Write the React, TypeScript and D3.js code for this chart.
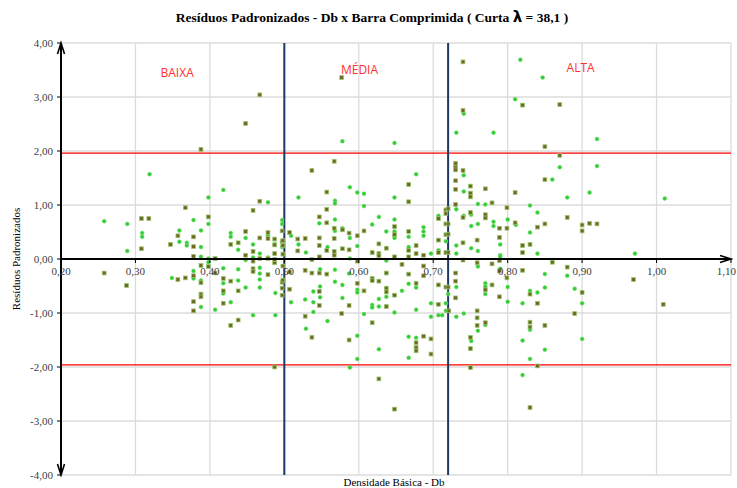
import React from 'react';
import * as d3 from 'd3';

// ticks of both axes
const xTicks = [0.2, 0.3, 0.4, 0.5, 0.6, 0.7, 0.8, 0.9, 1.0, 1.1];
const yTicks = [-4, -3, -2, -1, 0, 1, 2, 3, 4];

// class limits (Db) and the ±1.96 bounds
const classLimits = [0.5, 0.72];
const bounds = [1.96, -1.96];

const classLabels = [
  { text: 'BAIXA', x: 0.356, y: 3.44 },
  { text: 'MÉDIA', x: 0.601, y: 3.5 },
  { text: 'ALTA', x: 0.898, y: 3.55 },
];

// series 1: green circles  [Db, residual]
const circlePts: [number, number][] = [
  [0.319, 1.57], [0.418, 1.28], [0.398, 1.14], [0.478, 1.05], [0.258, 0.7], [0.289, 0.65], [0.378, 0.72],
  [0.398, 0.65], [0.359, 0.53], [0.388, 0.53], [0.309, 0.48], [0.309, 0.41], [0.359, 0.32], [0.369, 0.3],
  [0.369, 0.25], [0.388, 0.22], [0.289, 0.15], [0.388, 0.04], [0.398, 0.01], [0.398, -0.06], [0.378, -0.22],
  [0.378, -0.36], [0.388, -0.4], [0.388, -0.89], [0.349, -0.35], [0.418, -0.17], [0.418, -0.45], [0.418, -0.64],
  [0.407, -0.94], [0.428, -0.8], [0.438, -0.19], [0.438, -0.4], [0.448, -0.53], [0.458, -1.04], [0.467, -0.53],
  [0.467, -0.38], [0.467, -0.27], [0.467, -0.16], [0.488, -0.63], [0.488, -1.04], [0.428, 0.48], [0.428, 0.41],
  [0.438, 0.17], [0.448, 0.39], [0.448, -0.02], [0.458, 0.27], [0.458, 0.03], [0.467, 0.1], [0.478, 0.44],
  [0.478, 0.03], [0.487, 0.28], [0.497, 0.72], [0.497, 0.65], [0.497, 0.22],
  [0.578, 2.18], [0.648, 2.15], [0.677, 1.57], [0.588, 1.33], [0.598, 1.23], [0.607, 1.21], [0.519, 1.14],
  [0.568, 1.08], [0.568, 1.03], [0.648, 1.14], [0.607, 0.98], [0.627, 0.78], [0.568, 0.73], [0.648, 0.73],
  [0.547, 0.66], [0.618, 0.64], [0.707, 0.8], [0.509, 0.43], [0.519, 0.27], [0.529, 0.12], [0.558, 0.22],
  [0.568, 0.52], [0.578, 0.57], [0.588, 0.39], [0.598, 0.24], [0.588, 0.01], [0.637, 0.51], [0.637, -0.03],
  [0.648, 0.51], [0.648, 0.39], [0.667, 0.41], [0.667, 0.22], [0.687, 0.59], [0.687, 0.51], [0.687, 0.43],
  [0.707, 0.16], [0.697, 0.1], [0.717, 0.33], [0.509, -0.8], [0.548, -0.19], [0.568, -0.2], [0.568, -0.42],
  [0.578, -0.48], [0.578, -0.72], [0.587, -0.27], [0.598, -0.57], [0.598, -0.62], [0.607, -1.02], [0.618, -0.85],
  [0.618, -0.9], [0.627, -0.74], [0.627, -0.88], [0.637, -0.7], [0.648, -0.99], [0.658, -0.59], [0.667, -0.46],
  [0.677, -0.53], [0.677, -0.94], [0.697, -0.82], [0.707, -1.04], [0.697, -1.07], [0.717, -0.82], [0.717, -0.96],
  [0.528, -0.75], [0.539, -0.8], [0.539, -0.98], [0.529, -1.29], [0.558, -1.15], [0.598, -1.42], [0.598, -1.85],
  [0.588, -2.01], [0.627, -1.67], [0.667, -1.44], [0.677, -1.46], [0.667, -1.83], [0.548, -0.51], [0.548, -0.71],
  [0.539, -0.6],
  [0.817, 3.69], [0.847, 3.36], [0.81, 2.96], [0.741, 2.69], [0.731, 2.34], [0.781, 2.34], [0.87, 1.7],
  [0.741, 1.55], [0.741, 1.25], [0.86, 1.47], [0.88, 1.14], [0.91, 1.23], [0.76, 1.02], [0.77, 1.01],
  [0.731, 0.92], [0.751, 0.82], [0.741, 0.8], [0.76, 0.65], [0.751, 0.61], [0.781, 0.69], [0.781, 0.61],
  [0.8, 0.73], [0.811, 0.63], [0.83, 0.99], [0.84, 0.86], [0.83, 0.49], [0.731, 0.25], [0.731, 0.1],
  [0.751, 0.2], [0.76, 0.15], [0.79, 0.27], [0.79, 0.07], [0.79, 0.04], [0.84, 0.1], [0.76, -0.14],
  [0.79, -0.18], [0.88, -0.31], [0.85, -0.28], [0.731, -0.52], [0.77, -0.45], [0.77, -0.51], [0.77, -0.65],
  [0.8, -0.52], [0.8, -0.79], [0.82, -0.82], [0.83, -0.59], [0.84, -0.62], [0.85, -0.53], [0.89, -0.55],
  [0.9, -0.82], [0.9, -1.48], [0.731, -1.07], [0.741, -1.01], [0.76, -1.33], [0.77, -1.22], [0.751, -1.52],
  [0.83, -1.31], [0.82, -1.51], [0.85, -1.68], [0.83, -1.85], [0.82, -2.15], [0.72, -0.65], [0.712, -1.04],
  [0.92, 2.22], [0.92, 1.72], [1.011, 1.12], [0.971, 0.1],
];

// series 2: olive squares  [Db, residual]
const squarePts: [number, number][] = [
  [0.448, 2.51], [0.388, 2.03], [0.467, 1.07], [0.367, 0.95], [0.458, 0.9], [0.308, 0.75], [0.318, 0.75],
  [0.398, 0.78], [0.357, 0.43], [0.378, 0.41], [0.347, 0.27], [0.378, 0.23], [0.308, 0.19], [0.378, 0.05],
  [0.407, 0.01], [0.388, -0.12], [0.398, -0.14], [0.378, -0.31], [0.388, -0.44], [0.388, -0.65], [0.388, -0.7],
  [0.378, -0.79], [0.378, -0.96], [0.357, -0.38], [0.367, -0.35], [0.258, -0.26], [0.288, -0.49], [0.407, -0.26],
  [0.418, -0.36], [0.418, -0.59], [0.418, -0.82], [0.428, -0.41], [0.438, -0.59], [0.438, -1.13], [0.428, -1.23],
  [0.458, -0.18], [0.458, -0.23], [0.478, -0.29], [0.487, -2.0], [0.428, 0.27], [0.438, 0.3], [0.448, 0.51],
  [0.448, 0.07], [0.458, 0.14], [0.458, -0.04], [0.467, 0.39], [0.467, 0.01], [0.478, 0.49], [0.478, 0.38],
  [0.478, 0.01], [0.487, 0.37], [0.487, 0.26], [0.487, 0.1], [0.487, -0.07], [0.497, 0.52], [0.497, 0.32],
  [0.497, -0.43], [0.497, -0.54], [0.497, -0.67], [0.487, -0.01], [0.467, 3.04], [0.577, 3.36],
  [0.567, 1.81], [0.537, 1.64], [0.667, 1.38], [0.557, 1.24], [0.667, 1.06], [0.557, 0.92], [0.547, 0.78],
  [0.557, 0.67], [0.707, 0.75], [0.717, 0.91], [0.717, 0.84], [0.717, 0.65], [0.507, 0.49], [0.518, 0.37],
  [0.528, 0.38], [0.518, 0.15], [0.547, 0.39], [0.547, 0.25], [0.557, 0.16], [0.567, 0.57], [0.567, 0.38],
  [0.567, 0.14], [0.567, 0.07], [0.578, 0.54], [0.578, 0.19], [0.587, 0.48], [0.587, 0.17], [0.598, 0.43],
  [0.607, 0.52], [0.618, 0.12], [0.627, 0.28], [0.627, 0.1], [0.627, 0.06], [0.637, 0.2], [0.648, 0.6],
  [0.648, 0.45], [0.648, 0.04], [0.667, 0.51], [0.667, 0.16], [0.667, 0.04], [0.677, 0.25], [0.677, 0.1],
  [0.687, 0.07], [0.707, 0.35], [0.707, 0.12], [0.717, 0.45], [0.717, 0.12], [0.537, -0.01], [0.547, 0.04],
  [0.498, 0.34], [0.498, 0.25], [0.498, 0.09], [0.498, -0.13], [0.507, -0.24], [0.498, -0.39], [0.507, -0.56],
  [0.528, -0.21], [0.537, -0.26], [0.547, -0.26], [0.557, -0.28], [0.598, -0.04], [0.598, -0.45], [0.607, -0.59],
  [0.618, -0.36], [0.618, -0.4], [0.618, -1.18], [0.627, -0.41], [0.637, -0.26], [0.637, -0.54], [0.637, -0.61],
  [0.637, -0.88], [0.648, -0.67], [0.658, -0.1], [0.667, -0.28], [0.677, -0.45], [0.687, -0.13], [0.687, -0.31],
  [0.707, -0.48], [0.707, -0.84], [0.717, -0.52], [0.528, -1.06], [0.537, -1.45], [0.577, -1.01], [0.587, -0.86],
  [0.587, -1.5], [0.627, -2.22], [0.648, -2.78], [0.677, -1.55], [0.677, -1.64], [0.677, -1.7], [0.687, -1.43],
  [0.697, -1.48], [0.697, -1.76], [0.547, -0.6], [0.547, -0.86],
  [0.74, 3.65], [0.82, 2.85], [0.87, 2.86], [0.74, 2.75], [0.85, 2.08], [0.87, 1.92], [0.73, 1.77],
  [0.73, 1.7], [0.73, 1.65], [0.74, 1.64], [0.73, 1.45], [0.73, 1.29], [0.75, 1.35], [0.75, 1.22],
  [0.75, 1.15], [0.77, 1.3], [0.85, 1.47], [0.81, 1.23], [0.779, 1.04], [0.73, 1.01], [0.72, 0.93],
  [0.75, 0.86], [0.74, 0.77], [0.77, 0.82], [0.77, 0.76], [0.789, 0.57], [0.799, 0.95], [0.799, 0.57],
  [0.81, 0.67], [0.84, 0.59], [0.85, 0.65], [0.88, 0.77], [0.9, 0.63], [0.9, 0.52], [0.91, 0.66],
  [0.92, 0.65], [0.72, 0.65], [0.72, 0.46], [0.72, 0.12], [0.74, 0.3], [0.759, 0.35], [0.789, 0.4],
  [0.82, 0.25], [0.82, 0.12], [0.83, 0.27], [0.74, -0.02], [0.759, -0.07], [0.779, -0.09], [0.789, -0.03],
  [0.789, -0.22], [0.799, -0.35], [0.82, -0.21], [0.86, -0.06], [0.88, -0.15], [0.73, -0.26], [0.73, -0.41],
  [0.73, -0.72], [0.72, -0.52], [0.77, -0.57], [0.779, -0.48], [0.789, -0.7], [0.83, -0.65], [0.84, -0.82],
  [0.9, -0.62], [0.89, -1.01], [0.759, -0.96], [0.759, -1.09], [0.759, -1.23], [0.77, -1.18], [0.75, -1.45],
  [0.75, -1.66], [0.75, -2.01], [0.83, -1.17], [0.83, -1.26], [0.85, -1.23], [0.84, -1.98], [0.83, -2.75],
  [0.721, -0.96], [0.969, -0.38], [1.009, -0.84],
];

const W = 737;
const H = 488;
const serif = '"Liberation Serif", "Times New Roman", serif';
const fmt = (v: number, d: number) => v.toFixed(d).replace('.', ',');

export default function App() {
  const x = d3.scaleLinear().domain([0.2, 1.1]).range([61, 731]);
  const y = d3.scaleLinear().domain([-4, 4]).range([475, 43]);
  const x0 = x(0.2);
  const y0 = y(0);

  return (
    <>
      <style>{`body{margin:0}`}</style>
      <svg width={W} height={H} style={{ display: 'block', background: '#fff' }}>
        {/* title */}
        <text x={372} y={22} textAnchor="middle" fontFamily={serif} fontWeight="bold" fontSize={13.5} fill="#000">
          Resíduos Padronizados - Db x Barra Comprimida ( Curta <tspan fontFamily='"DejaVu Sans", sans-serif' fontSize={15}>λ</tspan> = 38,1 )
        </text>

        {/* grid */}
        <g stroke="#dcdcdc" strokeWidth={1.3}>
          {yTicks.map((t) => (
            <line key={'h' + t} x1={x0} x2={x(1.1)} y1={y(t)} y2={y(t)} />
          ))}
          {xTicks.map((t) => (
            <line key={'v' + t} x1={x(t)} x2={x(t)} y1={y(4)} y2={y(-4)} />
          ))}
        </g>

        {/* ±1.96 */}
        {bounds.map((b) => (
          <line key={'b' + b} x1={x0} x2={x(1.1)} y1={y(b)} y2={y(b)} stroke="#ff0000" strokeWidth={1.3} />
        ))}

        {/* class limits */}
        {classLimits.map((c) => (
          <line key={'c' + c} x1={x(c)} x2={x(c)} y1={y(4)} y2={y(-4)} stroke="#1f3864" strokeWidth={2} />
        ))}

        {/* region labels */}
        {classLabels.map((l) => (
          <text key={l.text} x={x(l.x)} y={y(l.y)} dy="0.35em" textAnchor="middle"
            fontFamily='"Open Sans", "Liberation Sans", sans-serif' fontSize={12} fill="#ff3030">
            {l.text}
          </text>
        ))}

        {/* circles */}
        <g>
          {circlePts.map((p, i) => (
            <circle key={'g' + i} cx={x(p[0])} cy={y(p[1])} r={2} fill="#33cc33" stroke="#80e080" strokeWidth={0.5} />
          ))}
        </g>

        {/* squares */}
        <g>
          {squarePts.map((p, i) => (
            <rect key={'s' + i} x={x(p[0]) - 1.9} y={y(p[1]) - 1.9} width={3.8} height={3.8}
              fill="#6a6a20" stroke="#9cc472" strokeWidth={0.8} />
          ))}
        </g>

        {/* axes */}
        <g stroke="#000" fill="none">
          <line x1={x0} x2={x0} y1={y(4)} y2={y(-4)} strokeWidth={2} />
          <line x1={x0} x2={x(1.1)} y1={y0} y2={y0} strokeWidth={2} />
          <path d={`M${x0 - 3.5},${y(4) + 11} L${x0},${y(4)} L${x0 + 3.5},${y(4) + 11}`} strokeWidth={1.6} />
          <path d={`M${x0 - 3.5},${y(-4) - 11} L${x0},${y(-4)} L${x0 + 3.5},${y(-4) - 11}`} strokeWidth={1.6} />
          <path d={`M${x(1.1) - 11},${y0 - 3.5} L${x(1.1)},${y0} L${x(1.1) - 11},${y0 + 3.5}`} strokeWidth={1.6} />
          {yTicks.map((t) => (
            <line key={'yt' + t} x1={x0 - 4} x2={x0} y1={y(t)} y2={y(t)} strokeWidth={1} />
          ))}
          {xTicks.map((t) => (
            <line key={'xt' + t} x1={x(t)} x2={x(t)} y1={y0} y2={y0 + 4} strokeWidth={1} />
          ))}
        </g>

        {/* tick labels */}
        {yTicks.map((t) => (
          <text key={'yl' + t} x={x0 - 8} y={y(t)} dy="0.35em" textAnchor="end" fontFamily={serif} fontSize={11} fill="#404040">
            {fmt(t, 2)}
          </text>
        ))}
        {xTicks.map((t, i) => (
          <text key={'xl' + t} x={i === xTicks.length - 1 ? W - 1 : x(t)} y={y0 + 16}
            textAnchor={i === xTicks.length - 1 ? 'end' : 'middle'} fontFamily={serif} fontSize={11} fill="#404040">
            {fmt(t, 2)}
          </text>
        ))}

        {/* axis titles */}
        <text transform={`translate(20, ${y0}) rotate(-90)`} textAnchor="middle" fontFamily={serif} fontSize={11} fill="#000">
          Resíduos Padronizados
        </text>
        <text x={394} y={486} textAnchor="middle" fontFamily={serif} fontSize={11} fill="#000">
          Densidade Básica - Db
        </text>
      </svg>
    </>
  );
}
